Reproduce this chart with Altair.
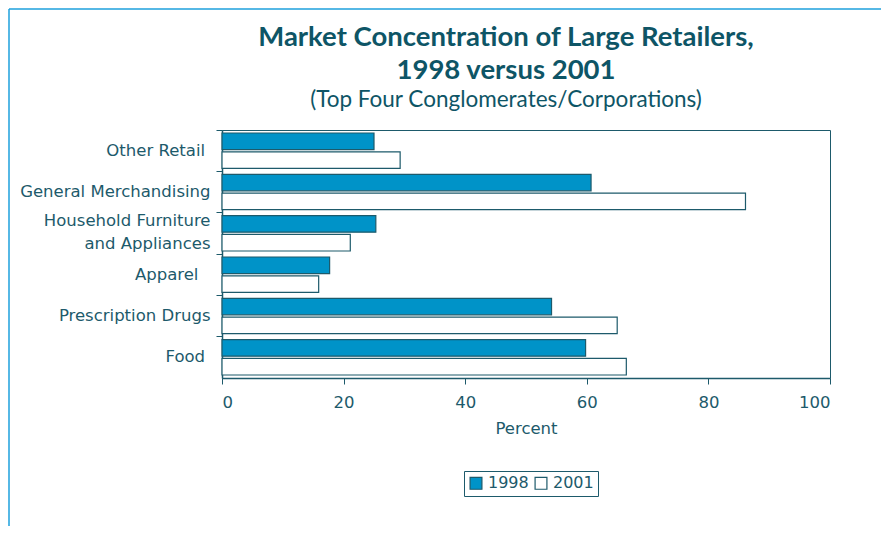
import altair as alt
import pandas as pd

categories = ["Other Retail", "General Merchandising", "Household Furniture and Appliances",
              "Apparel", "Prescription Drugs", "Food"]
display_labels = {
    "Other Retail": "Other Retail\u2004\u200b",
    "General Merchandising": "General Merchandising",
    "Household Furniture and Appliances": ["Household Furniture", "and Appliances"],
    "Apparel": "Apparel\u2800",
    "Prescription Drugs": "Prescription Drugs",
    "Food": "Food\u2004\u200b",
}
years = ["1998", "2001"]
v1998 = [25.0, 60.7, 25.3, 17.7, 54.2, 59.8]
v2001 = [29.3, 86.1, 21.1, 15.9, 65.0, 66.5]
x_ticks = [0, 20, 40, 60, 80, 100]

rows = []
for c, a, b in zip(categories, v1998, v2001):
    rows.append({"category": c, "year": "1998", "percent": a})
    rows.append({"category": c, "year": "2001", "percent": b})
df = pd.DataFrame(rows)

TEAL = "#1D5A6B"
TITLE_C = "#0E5566"
BLUE = "#0093C8"
FRAME = "#1EA0DC"
FONT = "DejaVu Sans"
TFONT = "Lato"
FS = 16.5

def js(v):
    if isinstance(v, list):
        return "[" + ", ".join("'" + s + "'" for s in v) + "]"
    return "'" + v + "'"

label_expr = ""
for k, v in display_labels.items():
    label_expr += "datum.value == '" + k + "' ? " + js(v) + " : "
label_expr += "datum.value"

bars = alt.Chart(df).mark_bar(stroke=TEAL, strokeWidth=1.2).encode(
    x=alt.X("percent:Q",
            scale=alt.Scale(domain=[0, 100], nice=False),
            axis=alt.Axis(values=x_ticks, title="Percent", grid=False,
                          labelFont=FONT, labelFontSize=FS, labelColor=TEAL,
                          titleFont=FONT, titleFontSize=FS, titleColor=TEAL,
                          titleFontWeight="normal", titlePadding=10,
                          domainColor=TEAL, domainWidth=1.5, tickColor=TEAL,
                          tickSize=6, labelPadding=10)),
    y=alt.Y("category:N", sort=categories,
            scale=alt.Scale(paddingInner=0, paddingOuter=0),
            axis=alt.Axis(title=None, labelExpr=label_expr, bandPosition=0,
                          labelFont=FONT, labelFontSize=FS, labelColor=TEAL,
                          labelLineHeight=23, labelPadding=6, labelLimit=300,
                          labelOffset={"condition": {"test": "datum.value == 'Household Furniture and Appliances'",
                                                     "value": -12}, "value": 0},
                          domainColor=TEAL, domainWidth=1.5, tickColor=TEAL,
                          tickSize=6)),
    yOffset=alt.YOffset("year:N", sort=years,
                        scale=alt.Scale(paddingInner=0.12, paddingOuter=0.16)),
    color=alt.Color("year:N",
                    scale=alt.Scale(domain=years, range=[BLUE, "#FFFFFF"]),
                    legend=alt.Legend(title=None, orient="none", legendX=242, legendY=341,
                                      direction="horizontal", symbolType="square",
                                      symbolSize=140, symbolStrokeColor=TEAL,
                                      symbolStrokeWidth=1.2, labelFont=FONT,
                                      labelFontSize=16, labelColor=TEAL,
                                      strokeColor=TEAL, fillColor="white",
                                      padding=4, columnPadding=3, labelOffset=4)),
)

frame_top = alt.Chart(pd.DataFrame({"a": [0]})).mark_rule(color=FRAME, strokeWidth=1.5).encode(
    x=alt.value(-213), x2=alt.value(659), y=alt.value(-121))
frame_left = alt.Chart(pd.DataFrame({"a": [0]})).mark_rule(color=FRAME, strokeWidth=1.5).encode(
    x=alt.value(-213), y=alt.value(-121), y2=alt.value(396))

chart = alt.layer(frame_top, frame_left, bars).properties(
    width=608, height=248,
    padding={"left": 0, "top": 0, "right": 0, "bottom": 0},
    title=alt.Title(
        text=["Market Concentration of Large Retailers,", "1998 versus 2001"],
        subtitle="(Top Four Conglomerates/Corporations)",
        font=TFONT, fontSize=27.5, fontWeight="bold", color=TITLE_C, lineHeight=33,
        subtitleFont=TFONT, subtitleFontSize=22.5, subtitleColor=TITLE_C,
        subtitlePadding=4, anchor="middle", frame="group", dx=-20, offset=-103,
    ),
).configure_view(stroke=TEAL, strokeWidth=1)

chart.save("out.html", embed_options={"renderer": "svg", "actions": False})
